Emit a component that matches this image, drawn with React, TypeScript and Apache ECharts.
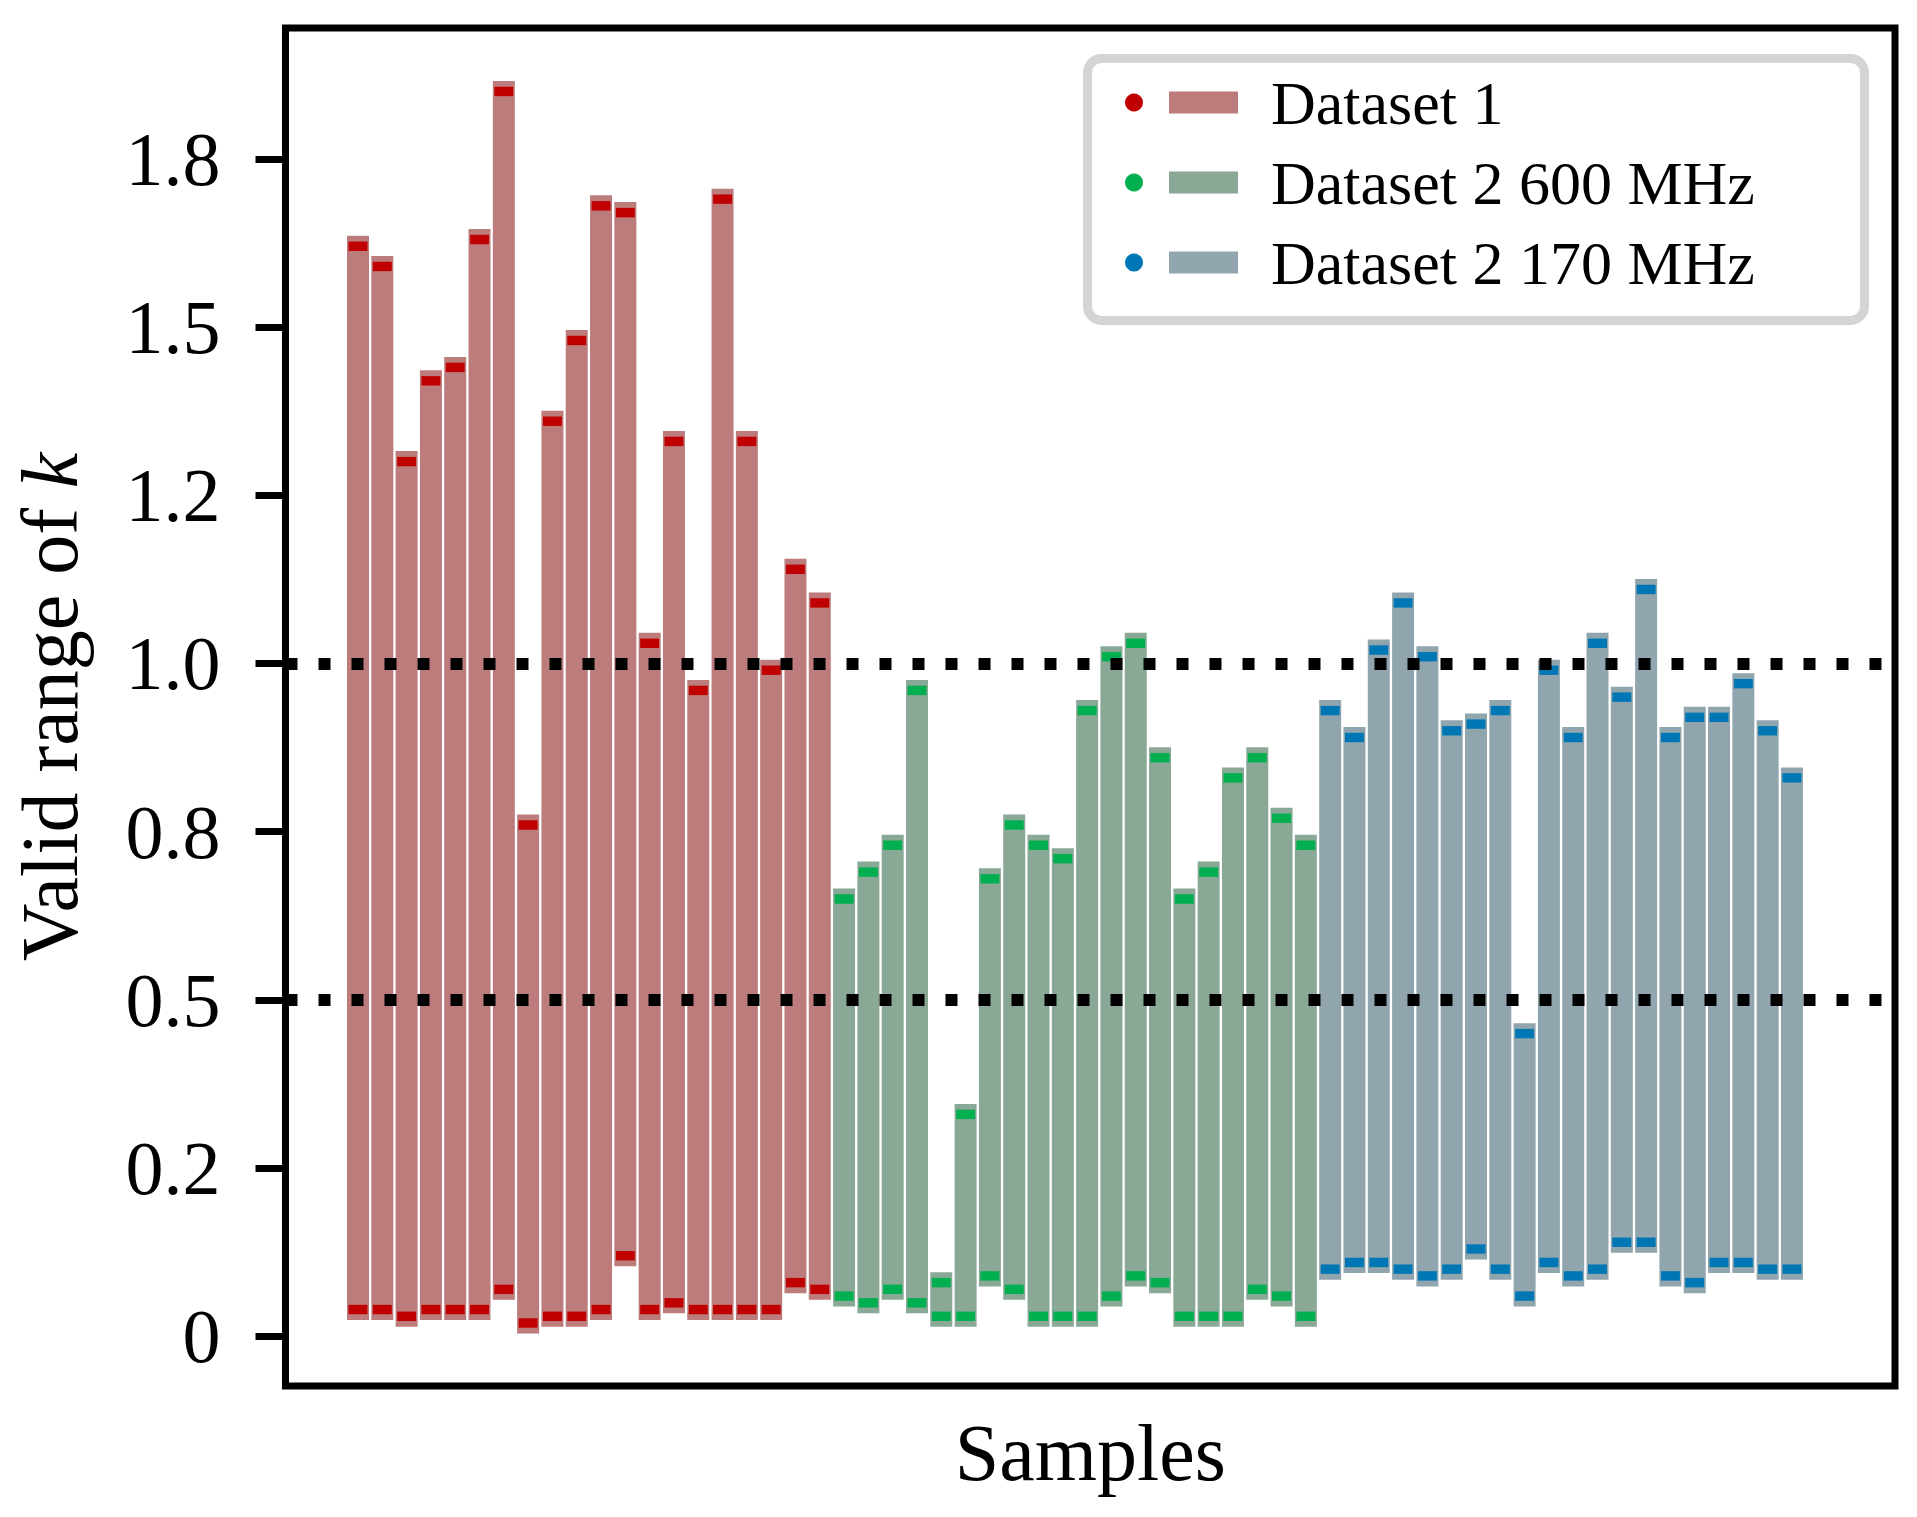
import React, { useEffect, useRef } from 'react';
import * as echarts from 'echarts';

// valid range of k for every sample: low / high ends
const d1Low = [0.04, 0.04, 0.03, 0.04, 0.04, 0.04, 0.07, 0.02, 0.03, 0.03, 0.04, 0.12, 0.04, 0.05, 0.04, 0.04, 0.04, 0.04, 0.08, 0.07];
const d1High = [1.62, 1.59, 1.30, 1.42, 1.44, 1.63, 1.85, 0.76, 1.36, 1.48, 1.68, 1.67, 1.03, 1.33, 0.96, 1.69, 1.33, 0.99, 1.14, 1.09];

const d600Low = [0.06, 0.05, 0.07, 0.05, 0.03, 0.03, 0.09, 0.07, 0.03, 0.03, 0.03, 0.06, 0.09, 0.08, 0.03, 0.03, 0.03, 0.07, 0.06, 0.03];
const d600High = [0.65, 0.69, 0.73, 0.96, 0.08, 0.33, 0.68, 0.76, 0.73, 0.71, 0.93, 1.01, 1.03, 0.86, 0.65, 0.69, 0.83, 0.86, 0.77, 0.73];

const d170Low = [0.10, 0.11, 0.11, 0.10, 0.09, 0.10, 0.13, 0.10, 0.06, 0.11, 0.09, 0.10, 0.14, 0.14, 0.09, 0.08, 0.11, 0.11, 0.10, 0.10];
const d170High = [0.93, 0.89, 1.02, 1.09, 1.01, 0.90, 0.91, 0.93, 0.45, 0.99, 0.89, 1.03, 0.95, 1.11, 0.89, 0.92, 0.92, 0.97, 0.90, 0.83];

const seriesNames = ['Dataset 1', 'Dataset 2 600 MHz', 'Dataset 2 170 MHz'];
const barColors = ['#bc7c7b', '#8aa896', '#91a5ae'];
const markColors = ['#c00000', '#00b050', '#0077b5'];

const yTickValues = [0, 0.25, 0.5, 0.75, 1.0, 1.25, 1.5, 1.75];
const yTickLabels = ['0', '0.2', '0.5', '0.8', '1.0', '1.2', '1.5', '1.8'];
const refLines = [1.0, 0.5];

const FONT = "'Liberation Serif', 'DejaVu Serif', serif";

const BAR_W = 0.905;
const MARK_W = 0.78;
const PAD = 0.0156;
const MARK_H = 0.014;

const App: React.FC = () => {
  const chartRef = useRef<HTMLDivElement>(null);

  useEffect(() => {
    if (!chartRef.current) return;
    const chart = echarts.init(chartRef.current, undefined, { renderer: 'svg' });

    const groups = [
      [d1Low, d1High],
      [d600Low, d600High],
      [d170Low, d170High]
    ];
    let offset = 0;
    const series: any[] = groups.map(([lo, hi], gi) => {
      const data = lo.map((l, i) => [offset + i, l, hi[i]]);
      offset += lo.length;
      return {
        name: seriesNames[gi],
        type: 'custom',
        data,
        z: 2,
        renderItem: (params: any, api: any) => {
          const x = api.value(0);
          const low = api.value(1);
          const high = api.value(2);
          const [cx, yTop] = api.coord([x, high + PAD]);
          const yBot = api.coord([x, low - PAD])[1];
          const bw = api.size([BAR_W, 0])[0];
          const mw = api.size([MARK_W, 0])[0];
          const marker = (v: number) => {
            const y1 = api.coord([x, v + MARK_H / 2])[1];
            const y2 = api.coord([x, v - MARK_H / 2])[1];
            return {
              type: 'rect',
              shape: { x: cx - mw / 2, y: y1, width: mw, height: y2 - y1 },
              style: { fill: markColors[gi] }
            };
          };
          return {
            type: 'group',
            children: [
              {
                type: 'rect',
                shape: { x: cx - bw / 2, y: yTop, width: bw, height: yBot - yTop },
                style: { fill: barColors[gi] }
              },
              marker(low),
              marker(high)
            ]
          };
        }
      };
    });

    // dotted reference lines at 1.0 and 0.5
    series.push({
      type: 'line',
      data: [],
      z: 5,
      silent: true,
      markLine: {
        symbol: 'none',
        silent: true,
        label: { show: false },
        lineStyle: { color: '#000', width: 12, type: [12, 21], cap: 'butt' },
        data: refLines.map((v) => ({ yAxis: v }))
      }
    });

    const rich: any = {
      g: { width: 21 },
      s: { width: 33 },
      t: { fontSize: 62, fontFamily: FONT, color: '#000', verticalAlign: 'middle' }
    };
    barColors.forEach((c, i) => {
      rich['b' + i] = { width: 69, height: 22, backgroundColor: c, verticalAlign: 'middle' };
    });

    const option: any = {
      animation: false,
      grid: {
        left: 285.5,
        right: 22,
        top: 28,
        bottom: 131,
        show: true,
        borderColor: '#000',
        borderWidth: 7,
        backgroundColor: 'transparent'
      },
      xAxis: {
        type: 'value',
        min: -2.983,
        max: 63.24,
        name: 'Samples',
        nameLocation: 'middle',
        nameGap: 27,
        nameTextStyle: { fontSize: 80, fontFamily: FONT, color: '#000' },
        axisLine: { show: false, onZero: false },
        axisTick: { show: false },
        axisLabel: { show: false },
        splitLine: { show: false }
      },
      yAxis: {
        type: 'value',
        min: -0.0736,
        max: 1.9443,
        name: 'Valid range of {k|k}',
        nameLocation: 'middle',
        nameGap: 196,
        nameTextStyle: {
          fontSize: 80,
          fontFamily: FONT,
          color: '#000',
          rich: { k: { fontSize: 80, fontFamily: FONT, fontStyle: 'italic', color: '#000' } }
        },
        axisLine: { show: false, onZero: false },
        splitLine: { show: false },
        axisTick: {
          show: true,
          length: 30,
          lineStyle: { color: '#000', width: 7 },
          customValues: yTickValues
        },
        axisLabel: {
          show: true,
          margin: 65,
          fontSize: 76,
          fontFamily: FONT,
          color: '#000',
          customValues: yTickValues,
          formatter: (v: number) => {
            const i = yTickValues.findIndex((t) => Math.abs(t - v) < 1e-6);
            return i >= 0 ? yTickLabels[i] : '';
          }
        }
      },
      legend: {
        orient: 'vertical',
        left: 1125,
        top: 71.5,
        padding: 0,
        itemGap: 18,
        itemWidth: 18,
        itemHeight: 18,
        icon: 'circle',
        selectedMode: false,
        data: seriesNames.map((n, i) => ({ name: n, itemStyle: { color: markColors[i] } })),
        formatter: (name: string) => {
          const i = seriesNames.indexOf(name);
          return `{g| }{b${i}| }{s| }{t|${name}}`;
        },
        textStyle: { fontSize: 62, fontFamily: FONT, color: '#000', rich }
      },
      graphic: [
        {
          type: 'rect',
          z: -1,
          shape: { x: 1087.5, y: 58.5, width: 777, height: 262, r: 14 },
          style: { fill: '#fff', stroke: '#d4d4d4', lineWidth: 9 }
        }
      ],
      series
    };

    chart.setOption(option);
    return () => {
      chart.dispose();
    };
  }, []);

  return (
    <div
      ref={chartRef}
      style={{ position: 'fixed', left: 0, top: 0, width: '1917px', height: '1517px', background: '#fff' }}
    />
  );
};

export default App;
